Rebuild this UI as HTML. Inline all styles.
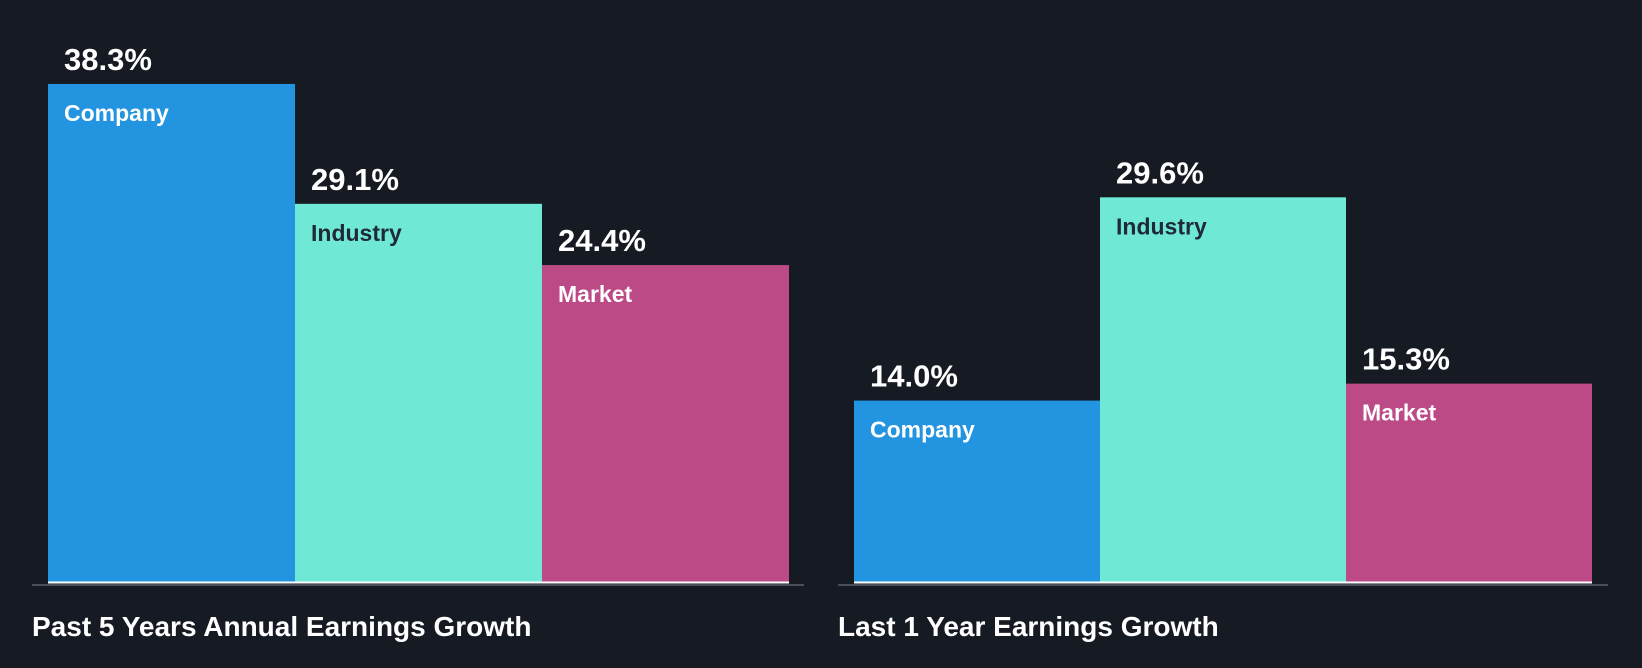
<!DOCTYPE html>
<html><head><meta charset="utf-8"><style>
html,body{margin:0;padding:0;background:#151a23;}
svg{display:block;font-family:"Liberation Sans",Arial,sans-serif;font-weight:bold;}
</style></head><body>
<svg id="chart" width="1642" height="668" xmlns="http://www.w3.org/2000/svg">
<rect width="1642" height="668" fill="#151a23"/>
</svg>
<script>
const categories = ["Company", "Industry", "Market"];
const past5Values = [38.3, 29.1, 24.4];
const last1Values = [14.0, 29.6, 15.3];
const valueLabels5 = ["38.3%", "29.1%", "24.4%"];
const valueLabels1 = ["14.0%", "29.6%", "15.3%"];
const panelTitles = ["Past 5 Years Annual Earnings Growth", "Last 1 Year Earnings Growth"];

const svg = document.getElementById('chart');
const NS = 'http://www.w3.org/2000/svg';
const colors = ["#2394df", "#6fe8d6", "#bc4a87"];
const labelColors = ["#ffffff", "#1f2a36", "#ffffff"];
const baseY = 583, pxPer = 13.03;
function y(v){ return baseY - v * pxPer; }
function mk(tag, attrs){ const e=document.createElementNS(NS,tag); for(const k in attrs) e.setAttribute(k,attrs[k]); svg.appendChild(e); return e; }

const panels = [
  {x0:48, bw:247, axis:[32,804], vals:past5Values, labels:valueLabels5, tx:32},
  {x0:854, bw:246, axis:[838,1608], vals:last1Values, labels:valueLabels1, tx:838}
];
panels.forEach((p, pi) => {
  const ax = mk('line',{x1:p.axis[0],x2:p.axis[1],y1:baseY+2,y2:baseY+2,stroke:'#4a4f57','stroke-width':2});
  
  
  p.vals.forEach((v, i) => {
    const x = p.x0 + i * p.bw;
    const r = mk('rect',{x:x,y:y(v),width:p.bw,height:baseY-y(v),fill:colors[i]});
    
    
    const bl = mk('line',{x1:x,x2:x+p.bw,y1:baseY-0.5,y2:baseY-0.5,stroke:'#ffffff','stroke-width':2});
    
    
    const t = mk('text',{x:x+16,y:y(v)-14,fill:'#ffffff','font-size':31});
    t.textContent = p.labels[i];
    
    
    const c = mk('text',{x:x+16,y:y(v)+37,fill:labelColors[i],'font-size':23});
    c.textContent = categories[i];
    
    
  });
  const tt = mk('text',{x:p.tx,y:636,fill:'#ffffff','font-size':28});
  tt.textContent = panelTitles[pi];
  
  
});
</script>
</body></html>
